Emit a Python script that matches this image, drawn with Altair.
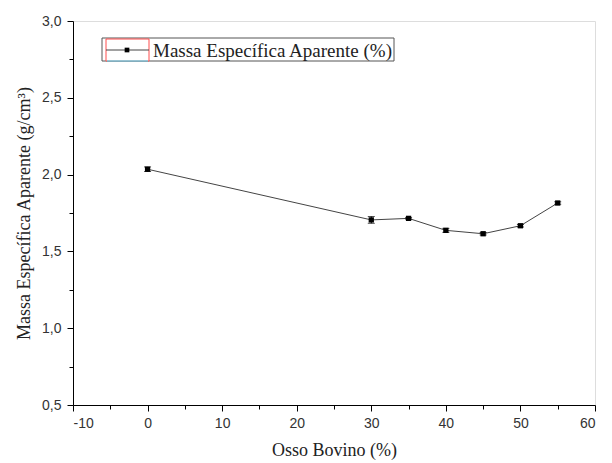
import altair as alt
import pandas as pd

osso = [0, 30, 35, 40, 45, 50, 55]
massa = [2.035, 1.705, 1.715, 1.637, 1.615, 1.667, 1.815]
erro = [0.015, 0.022, 0.005, 0.013, 0.008, 0.008, 0.008]
x_ticks = [-10, 0, 10, 20, 30, 40, 50, 60]
x_minor = [-5, 5, 15, 25, 35, 45, 55]
y_ticks = [0.5, 1.0, 1.5, 2.0, 2.5, 3.0]
y_minor = [0.75, 1.25, 1.75, 2.25, 2.75]
legend_label = ["Massa Específica Aparente (%)"]

df = pd.DataFrame({"osso": osso, "massa": massa, "erro": erro})
df["lo"] = df["massa"] - df["erro"]
df["hi"] = df["massa"] + df["erro"]

xs = alt.Scale(domain=[-10, 60], nice=False, zero=False)
ys = alt.Scale(domain=[0.5, 3.0], nice=False, zero=False)

serif = "Liberation Serif"
sans = "Liberation Sans"
x_title = "Osso Bovino (%)"
y_title = "Massa Específica Aparente (g/cm³)"

x_axis = alt.Axis(values=x_ticks, title=x_title, titleFont=serif, titleFontSize=18,
                  titleFontWeight="normal", titleColor="#222", titlePadding=11,
                  labelFont=sans, labelFontSize=14, labelColor="#333", labelPadding=5,
                  labelExpr="'' + datum.value",
                  tickSize=6, tickColor="black", domainColor="black", grid=False, orient="bottom")
y_axis = alt.Axis(values=y_ticks, title=y_title, titleFont=serif,
                  titleFontSize=18, titleFontWeight="normal", titleColor="#222", titlePadding=8,
                  labelFont=sans, labelFontSize=14, labelColor="#333", labelPadding=6,
                  labelExpr="replace(format(datum.value, '.1f'), '.', ',')",
                  tickSize=6, tickColor="black", domainColor="black", grid=False, orient="left")

base = alt.Chart(df)

line = base.mark_line(color="#444", strokeWidth=1).encode(
    x=alt.X("osso:Q", scale=xs, axis=x_axis),
    y=alt.Y("massa:Q", scale=ys, axis=y_axis),
)
err = base.mark_errorbar(ticks={"size": 7}, color="black", thickness=1).encode(
    x=alt.X("osso:Q", scale=xs, title=x_title),
    y=alt.Y("lo:Q", scale=ys, title=y_title),
    y2="hi:Q",
)
pts = base.mark_square(color="black", size=28, opacity=1).encode(
    x=alt.X("osso:Q", scale=xs, title=x_title),
    y=alt.Y("massa:Q", scale=ys, title=y_title),
)
minor = base.mark_point(opacity=0).encode(
    x=alt.X("osso:Q", scale=xs, axis=alt.Axis(values=x_minor, labels=False, title=None, tickSize=4,
                                               tickColor="black", domain=False, grid=False, orient="bottom")),
    y=alt.Y("massa:Q", scale=ys, axis=alt.Axis(values=y_minor, labels=False, title=None, tickSize=4,
                                                tickColor="black", domain=False, grid=False, orient="left")),
)

one = alt.Chart(pd.DataFrame({"label": legend_label}))
leg_box = one.mark_rect(fill="white", stroke="#555", strokeWidth=1).encode(
    x=alt.value(29), x2=alt.value(321), y=alt.value(17), y2=alt.value(40))
leg_red = one.mark_rect(fill="white", stroke="#ff4d4d", strokeWidth=1).encode(
    x=alt.value(33), x2=alt.value(76), y=alt.value(18), y2=alt.value(40))
leg_cyan = one.mark_rule(color="#33e0ff", strokeWidth=1).encode(
    x=alt.value(34), x2=alt.value(75), y=alt.value(40))
leg_line = one.mark_rule(color="#444", strokeWidth=1).encode(
    x=alt.value(33), x2=alt.value(76), y=alt.value(29))
leg_pt = one.mark_square(color="black", size=22, opacity=1).encode(
    x=alt.value(54), y=alt.value(29))
leg_text = one.mark_text(font=serif, fontSize=19, align="left", baseline="middle", color="#222").encode(
    x=alt.value(80), y=alt.value(30), text="label:N")

main = alt.layer(line, err, pts)
chart = alt.layer(main, minor, leg_box, leg_red, leg_cyan, leg_line, leg_pt, leg_text).resolve_axis(
    x="independent", y="independent"
).properties(
    width=522, height=384,
    autosize=alt.AutoSizeParams(type="none"),
    padding={"left": 73, "top": 21, "right": 17, "bottom": 58},
).configure_view(stroke="black", strokeWidth=1).configure(background="white")

chart.save("out.html", embed_options={"renderer": "svg", "actions": False})
